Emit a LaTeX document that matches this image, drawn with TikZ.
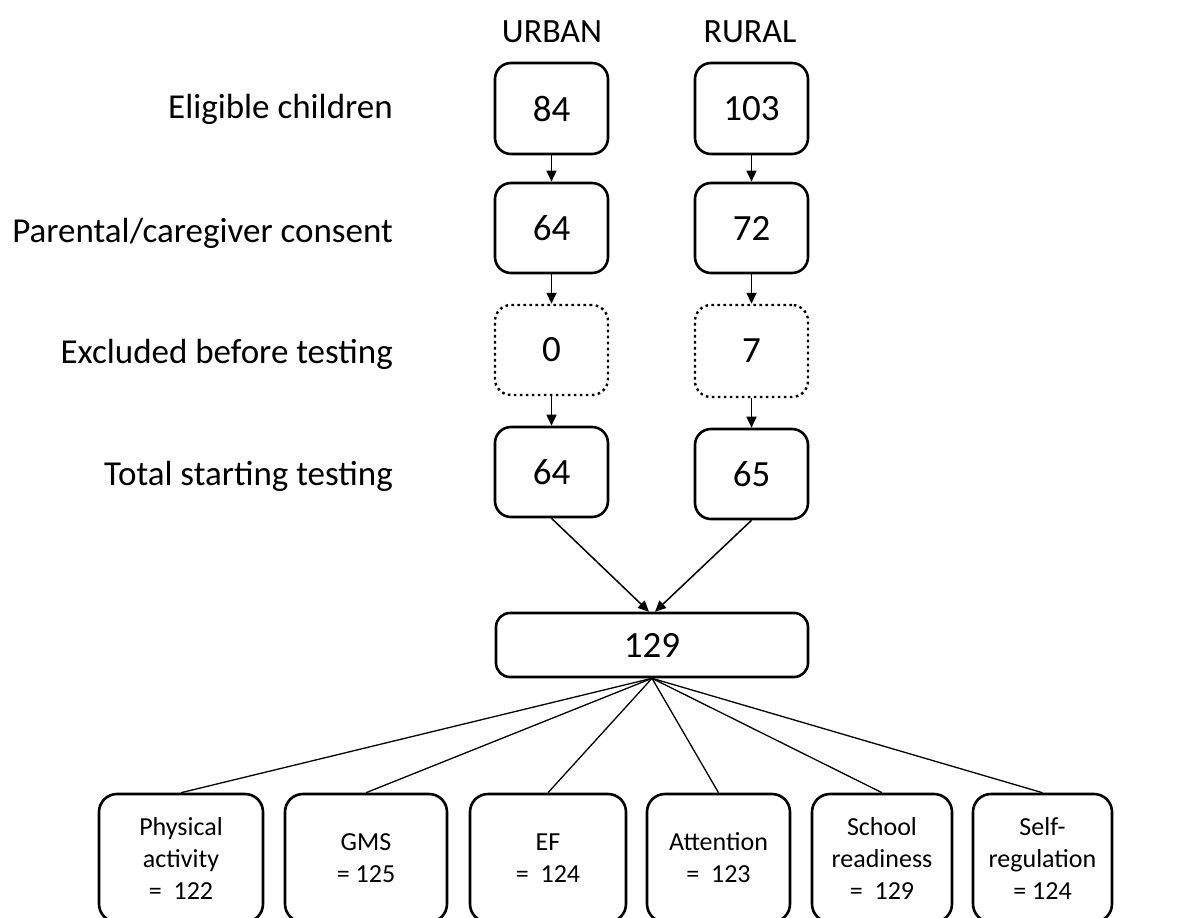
\documentclass[tikz,border=0pt]{standalone}
\usepackage{fontspec}
\setmainfont{Carlito}
\usetikzlibrary{arrows.meta,calc}
\begin{document}
\begin{tikzpicture}[x=1pt,y=-1pt,
  box/.style={draw,line width=2.6pt,rounded corners=16pt,inner sep=0pt,font=\fontsize{37}{42}\selectfont},
  dotbox/.style={box,line width=2.4pt,dash pattern=on 2.6pt off 3.4pt},
  lab/.style={anchor=base east,inner sep=0pt,font=\fontsize{35}{40}\selectfont},
  head/.style={anchor=base,inner sep=0pt,font=\fontsize{34}{40}\selectfont},
  outbox/.style={box,rounded corners=18pt,minimum height=128pt,align=center,font=\fontsize{26}{32}\selectfont},
  arr/.style={line width=1.5pt,-{Triangle[length=11pt,width=10pt]}},
  ln/.style={line width=1.3pt}]
\useasboundingbox (0,0) rectangle (1184,918);
% headers
\node[head] (hu) at (552,42) {URBAN};
\node[head] (hr) at (750,42) {RURAL};
% row labels
\node[lab] (l1) at (393,118) {Eligible children};
\node[lab] (l2) at (393,242) {Parental/caregiver consent};
\node[lab] (l3) at (393,363) {Excluded before testing};
\node[lab] (l4) at (393,485) {Total starting testing};
% urban column
\node[box,minimum width=113pt,minimum height=91pt] (u1) at (551.5,108.5) {84};
\node[box,minimum width=113pt,minimum height=90pt] (u2) at (551.5,228) {64};
\node[dotbox,minimum width=113pt,minimum height=90pt] (u3) at (551.5,350) {0};
\node[box,minimum width=113pt,minimum height=90pt] (u4) at (551.5,472) {64};
% rural column
\node[box,minimum width=113pt,minimum height=91pt] (r1) at (751.5,108.5) {103};
\node[box,minimum width=113pt,minimum height=90pt] (r2) at (751.5,228) {72};
\node[dotbox,minimum width=113pt,minimum height=92pt] (r3) at (751.5,351) {7};
\node[box,minimum width=113pt,minimum height=90pt] (r4) at (751.5,474) {65};
% total
\node[box,rounded corners=14pt,minimum width=312pt,minimum height=64pt] (t) at (652,645) {129};
% outcomes
\node[outbox,minimum width=164pt] (o1) at (181,858) {Physical\\activity\\= \ 122};
\node[outbox,minimum width=162pt] (o2) at (366,858) {GMS\\= 125};
\node[outbox,minimum width=156pt] (o3) at (548,858) {EF\\= \ 124};
\node[outbox,minimum width=143pt] (o4) at (718.5,858) {Attention\\= \ 123};
\node[outbox,minimum width=140pt] (o5) at (882,858) {School\\readiness\\= \ 129};
\node[outbox,minimum width=139pt] (o6) at (1042.5,858) {Self-\\regulation\\= 124};
% arrows
\draw[arr] (u1.south) -- (u2.north);
\draw[arr] (u2.south) -- (u3.north);
\draw[arr] (u3.south) -- (u4.north);
\draw[arr] (r1.south) -- (r2.north);
\draw[arr] (r2.south) -- (r3.north);
\draw[arr] (r3.south) -- (r4.north);
\draw[arr] (u4.south) -- ($(t.north)+(-3,0)$);
\draw[arr] (r4.south) -- ($(t.north)+(3,0)$);
% fan
\foreach \o in {o1,o2,o3,o4,o5,o6}
  \draw[ln] (t.south) -- (\o.north);
\end{tikzpicture}
\end{document}
